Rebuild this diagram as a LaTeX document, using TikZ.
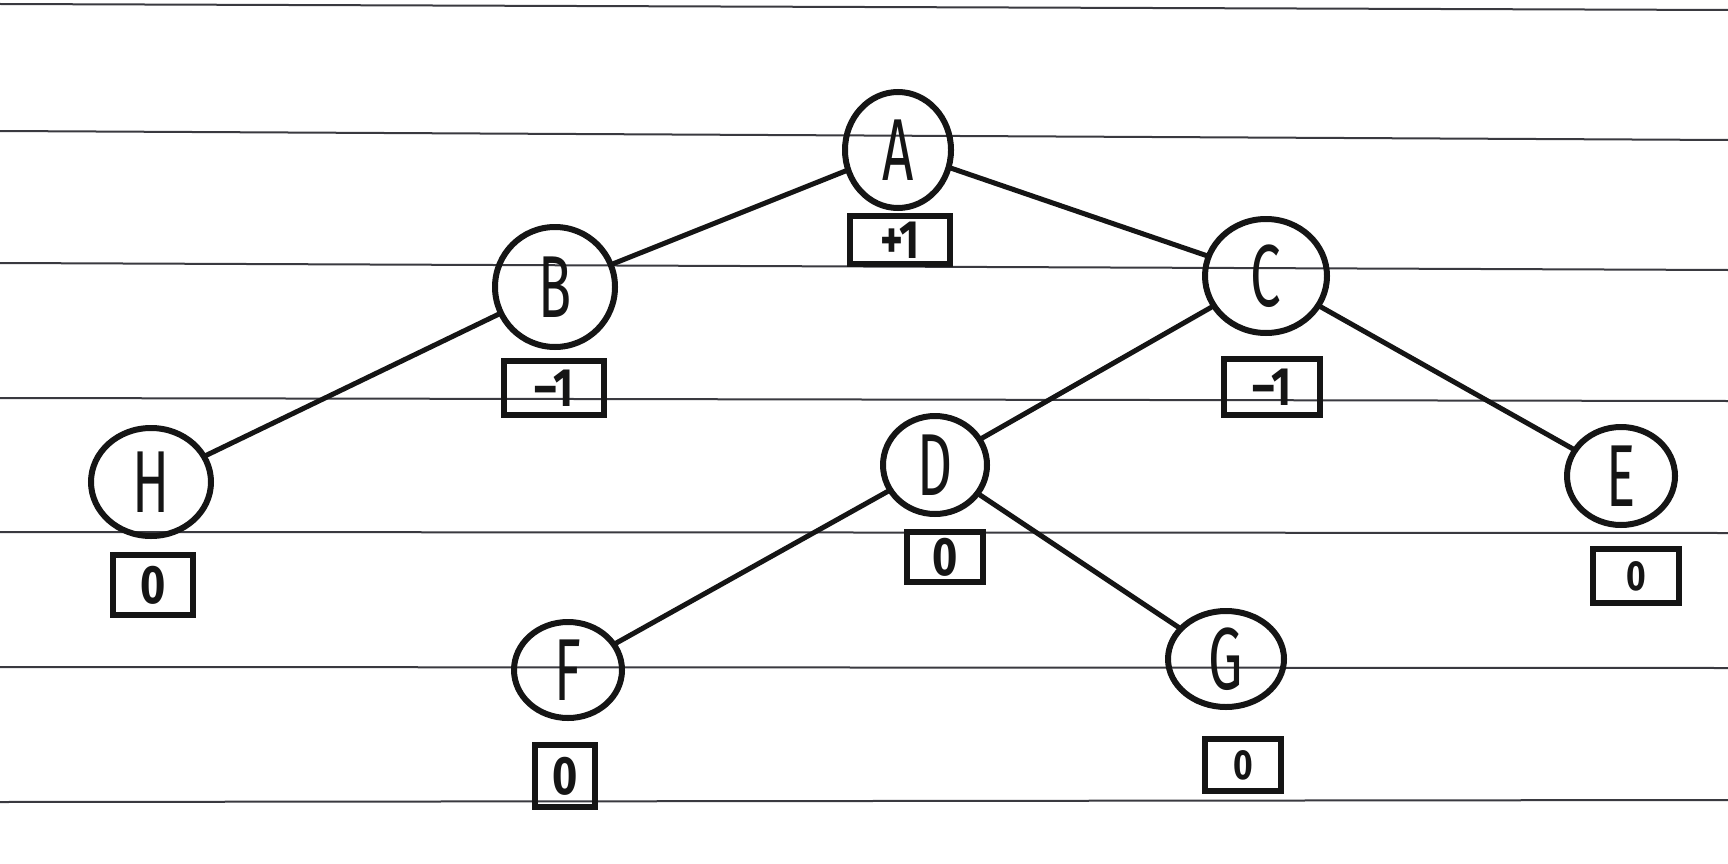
\documentclass[tikz,border=0pt]{standalone}
\usepackage{fontspec}
\usetikzlibrary{shapes.geometric}
\setmainfont{Fira Sans}
\definecolor{ink}{HTML}{151515}
\definecolor{rule}{HTML}{3A3A40}
\newcommand\hw[1]{\scalebox{0.62}[1]{#1}}
\newcommand\hb[1]{\scalebox{0.8}[1]{#1}}
\begin{document}
\begin{tikzpicture}[x=1pt,y=-1pt,
  nd/.style={draw=ink, line width=6pt, ellipse, inner sep=0pt, text=ink, font=\fontsize{88}{88}\selectfont},
  bx/.style={draw=ink, line width=6pt, rectangle, inner sep=0pt, text=ink, font=\fontsize{54}{54}\selectfont\bfseries},
  sbx/.style={bx, font=\fontsize{42}{42}\selectfont\bfseries},
  ed/.style={draw=ink, line width=5pt, line cap=round},
  ruleline/.style={draw=rule, line width=2pt}]
\useasboundingbox (0,0) rectangle (1728,864);
\fill[white] (0,0) rectangle (1728,864);
% ruled paper
\foreach \yl/\yr in {4/10, 131/140, 263/270, 398/401, 532/533, 667/668, 802/800}
  \draw[ruleline] (0,\yl) -- (1728,\yr);
% nodes
\node[nd, minimum width=106, minimum height=116] (A) at (898,150) {\hw{A}};
\node[nd, minimum width=120, minimum height=120] (B) at (555,287) {\hw{B}};
\node[nd, minimum width=122, minimum height=114] (C) at (1266,276) {\hw{C}};
\node[nd, minimum width=120, minimum height=108] (H) at (151,482) {\hw{H}};
\node[nd, minimum width=104, minimum height=98] (D) at (935,465) {\hw{D}};
\node[nd, minimum width=108, minimum height=98] (E) at (1621,476) {\hw{E}};
\node[nd, minimum width=108, minimum height=96] (F) at (568,670) {\hw{F}};
\node[nd, minimum width=116, minimum height=96] (G) at (1226,659) {\hw{G}};
% balance boxes
\node[bx, minimum width=100, minimum height=48] (bA) at (900,240) {\hb{+1}};
\node[bx, minimum width=100, minimum height=54] (bB) at (554,388) {\hb{--1}};
\node[bx, minimum width=96, minimum height=56] (bC) at (1272,387) {\hb{--1}};
\node[bx, minimum width=80, minimum height=60] (bH) at (153,585) {\hb{0}};
\node[bx, minimum width=76, minimum height=50] (bD) at (945,557) {\hb{0}};
\node[sbx, minimum width=86, minimum height=54] (bE) at (1636,576) {\hb{0}};
\node[bx, minimum width=60, minimum height=62] (bF) at (565,776) {\hb{0}};
\node[sbx, minimum width=76, minimum height=52] (bG) at (1243,765) {\hb{0}};
% edges
\draw[ed] (A) -- (B);
\draw[ed] (A) -- (C);
\draw[ed] (B) -- (H);
\draw[ed] (C) -- (D);
\draw[ed] (C) -- (E);
\draw[ed] (D) -- (F);
\draw[ed] (D) -- (G);
\end{tikzpicture}
\end{document}
